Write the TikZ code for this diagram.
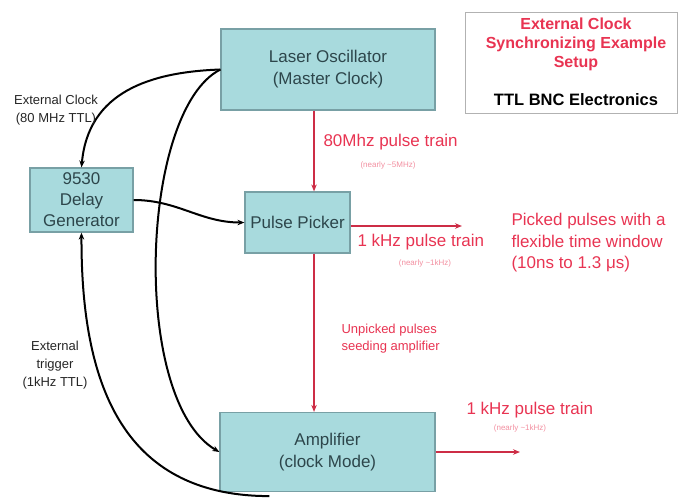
\documentclass[tikz,border=0pt]{standalone}
\usepackage{fontspec}
\setmainfont{Liberation Sans}
\usetikzlibrary{arrows.meta}
\definecolor{boxfill}{RGB}{168,218,221}
\definecolor{boxline}{RGB}{120,160,165}
\definecolor{boxtext}{RGB}{45,70,75}
\definecolor{pulsered}{RGB}{232,52,82}
\definecolor{wirered}{RGB}{205,45,70}

\begin{document}
\begin{tikzpicture}[x=1pt,y=-1pt]
        \tikzstyle{block} = [rectangle, draw=boxline, fill=boxfill, line width=1.2pt, inner sep=0pt, align=center, text=boxtext, font=\fontsize{17}{22}\selectfont]
        \tikzstyle{arrow} = [line width=2pt, -{Stealth[length=7pt,width=5.5pt]}]
        \tikzstyle{redarrow} = [line width=1.8pt, draw=wirered, -{Stealth[length=7pt,width=5.5pt]}]
        \tikzstyle{redlabel} = [text=pulsered, font=\fontsize{17}{21.5}\selectfont, align=left]
        \tikzstyle{tiny} = [text=pulsered!55, font=\fontsize{8}{9}\selectfont]
        \tikzstyle{note} = [text=black!85, font=\fontsize{13}{18}\selectfont, align=center]

        \useasboundingbox (0,0) rectangle (679,501);

        \node (laser) [block, minimum width=214pt, minimum height=81pt] at (328,69.5) {Laser Oscillator\\(Master Clock)};
        \node (delay) [block, minimum width=103pt, minimum height=64pt, font=\fontsize{17}{21}\selectfont] at (81.5,200) {9530\\Delay\\Generator};
        \node (picker) [block, minimum width=105pt, minimum height=61pt] at (297.5,222.5) {Pulse Picker};
        \node (amp) [block, minimum width=215pt, minimum height=79pt] at (327.5,452) {Amplifier\\(clock Mode)};

        % title box
        \node (title) [draw=gray!60, line width=0.8pt, minimum width=212pt, minimum height=101pt] at (571,62.5) {};
        \node (heading) [text=pulsered, font=\bfseries\fontsize{16}{19}\selectfont, align=center] at (576,44) {External Clock\\Synchronizing Example\\Setup};
        \node (maker) [font=\bfseries\fontsize{16.5}{19}\selectfont] at (576,100) {TTL BNC Electronics};

        \coordinate (pickout) at (462,226);
        \coordinate (ampout) at (520,452);

        \draw [redarrow] ([xshift=-14pt]laser.south) -- ([xshift=-14pt]laser.south |- picker.north);
        \draw [redarrow] ([xshift=-14pt]laser.south |- picker.south) -- ([xshift=-14pt]laser.south |- amp.north);
        \draw [redarrow] ([yshift=-3.5pt]picker.east) -- (pickout);
        \draw [redarrow] (amp.east) -- (ampout);

        \node (clocktrain) [redlabel, anchor=west] at (320,142) {80Mhz pulse train};
        \node (clockrate) [tiny] at (388,165) {(nearly \textasciitilde5MHz)};
        \node (pickedtrain) [redlabel, anchor=west] at (354,242) {1 kHz pulse train};
        \node (pickedrate) [tiny] at (425,263) {(nearly \textasciitilde1kHz)};
        \node (window) [redlabel, anchor=west] at (508,243) {Picked pulses with a\\flexible time window\\(10ns to 1.3 μs)};
        \node (seed) [redlabel, anchor=west, font=\fontsize{13}{17}\selectfont] at (338,338.5) {Unpicked pulses\\seeding amplifier};
        \node (amptrain) [redlabel, anchor=west] at (463,410) {1 kHz pulse train};
        \node (amprate) [tiny] at (520,428) {(nearly \textasciitilde1kHz)};

        % clock and trigger lines
        \draw [arrow] (laser.west) .. controls (150,72) and (88,92) .. (delay.north);
        \draw [arrow] (laser.west) .. controls (140,110) and (130,400) .. (amp.west);
        \draw [arrow] (delay.east) to[out=0, in=180] (picker.west);
        \draw [arrow] ([xshift=50pt,yshift=-4pt]amp.south west) .. controls (120,496) and (81,380) .. (delay.south);

        \node (clocknote) [note] at (56,110) {External Clock\\(80 MHz TTL)};
        \node (trignote) [note] at (55,365) {External\\trigger\\(1kHz TTL)};
    \end{tikzpicture}
\end{document}
